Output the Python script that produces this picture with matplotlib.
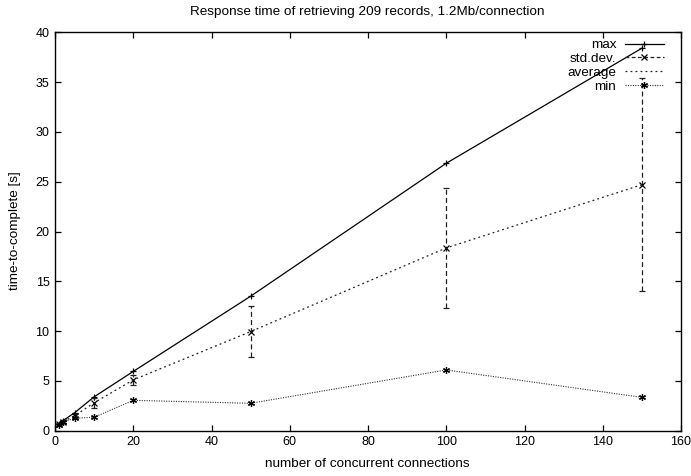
import matplotlib
matplotlib.use("Agg")
import matplotlib.pyplot as plt
from matplotlib.lines import Line2D

plt.rcParams['font.family'] = ['Liberation Sans', 'DejaVu Sans']

connections = [1, 2, 5, 10, 20, 50, 100, 150]
max_vals = [0.7, 1.0, 1.8, 3.4, 5.95, 13.5, 26.85, 38.4]
avg_vals = [0.65, 0.9, 1.5, 2.8, 5.1, 9.95, 18.35, 24.7]
std_vals = [0.05, 0.1, 0.2, 0.5, 0.5, 2.6, 6.05, 10.7]
min_vals = [0.55, 0.85, 1.25, 1.35, 3.05, 2.75, 6.1, 3.35]

xticks = [0, 20, 40, 60, 80, 100, 120, 140, 160]
yticks = [0, 5, 10, 15, 20, 25, 30, 35, 40]

W, H = 691, 476
fig = plt.figure(figsize=(W/100, H/100), dpi=100)
ax = fig.add_axes([55/W, 1-430.7/H, (681-55)/W, (430.7-32.3)/H])

fs = 9
fl = 9.7
ax.plot(connections, max_vals, color='black', lw=0.9, marker='+', ms=5, mew=0.9)
eb = ax.errorbar(connections, avg_vals, yerr=std_vals, fmt='none', ecolor='#222222',
                 elinewidth=0.9, capsize=2.5, capthick=0.9)
for c in eb[2]:
    c.set_linestyle((0, (4, 2.5)))
ax.plot(connections, avg_vals, ls='none', marker='x', ms=4.5, mew=0.9, color='black')
ax.plot(connections, avg_vals, color='#222222', lw=0.9, ls=(0, (1.5, 2.5)))
ax.plot(connections, min_vals, color='#333333', lw=0.8, ls=(0, (1, 1.2)),
        marker=(6, 2, 0), ms=5, mew=0.9, mec='black')

ax.set_xlim(0, 160)
ax.set_ylim(0, 40)
ax.set_xticks(xticks)
ax.set_yticks(yticks)
ax.tick_params(direction='in', top=True, right=True, labelsize=fs, length=4, width=0.9,
               pad=4)
for s in ax.spines.values():
    s.set_linewidth(1.0)

fig.text(367/W, 1-12/H, 'Response time of retrieving 209 records, 1.2Mb/connection',
         fontsize=fl, ha='center', va='center')
fig.text(367.5/W, 1-464/H, 'number of concurrent connections',
         fontsize=fl, ha='center', va='center')
fig.text(15/W, 1-231/H, 'time-to-complete [s]', fontsize=fl, ha='center', va='center',
         rotation=90)

handles = [
    Line2D([], [], color='black', lw=0.9, marker='+', ms=5, mew=0.9),
    Line2D([], [], color='#222222', lw=0.9, ls=(0, (3, 2)), marker='x', ms=4.5, mew=0.9, mec='black'),
    Line2D([], [], color='#222222', lw=0.9, ls=(0, (1.5, 2.5))),
    Line2D([], [], color='#333333', lw=0.8, ls=(0, (1, 1.2)), marker=(6, 2, 0), ms=5, mew=0.9, mec='black'),
]
labels = ['max', 'std.dev.', 'average', 'min']
leg = ax.legend(handles, labels, loc='upper right', bbox_to_anchor=(664/W, 1-39/H),
                bbox_transform=fig.transFigure,
                frameon=False, markerfirst=False, fontsize=fl, handlelength=2.9,
                handletextpad=0.65, labelspacing=0.1, borderaxespad=0, borderpad=0,
                numpoints=1)
for t in leg.get_texts():
    t.set_ha('right')
leg._legend_box.align = 'right'

fig.savefig('out.png', dpi=100)
